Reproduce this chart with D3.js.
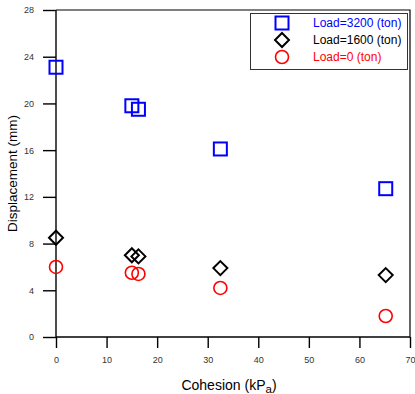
<!DOCTYPE html>
<html>
<head>
<meta charset="utf-8">
<script src="https://cdn.jsdelivr.net/npm/d3@7"></script>
<style>
  body { margin: 0; background: #fff; }
  svg { display: block; font-family: "Liberation Sans", Arial, sans-serif; }
</style>
</head>
<body>
<div id="chart"></div>
<script>
// Data
const cohesion = [0, 15, 16.3, 32.5, 65.2];
const load3200 = [23.1, 19.8, 19.5, 16.1, 12.7];
const load1600 = [8.5, 7.0, 6.9, 5.9, 5.3];
const load0 = [6.0, 5.5, 5.4, 4.2, 1.8];
const seriesNames = ["Load=3200 (ton)", "Load=1600 (ton)", "Load=0 (ton)"];
const xMajorTicks = [0, 10, 20, 30, 40, 50, 60, 70];
const yMajorTicks = [0, 4, 8, 12, 16, 20, 24, 28];

const width = 415, height = 394;
const margin = {top: 10, right: 5, bottom: 57, left: 56};

const x = d3.scaleLinear().domain([0, 70]).range([margin.left, width - margin.right]);
const y = d3.scaleLinear().domain([0, 28]).range([height - margin.bottom, margin.top]);

const svg = d3.select("#chart").append("svg")
  .attr("width", width)
  .attr("height", height);

// Frame on top and right
svg.append("path")
  .attr("d", `M${x(0)},${y(28)}H${x(70)}V${y(0)}`)
  .attr("fill", "none")
  .attr("stroke", "#000")
  .attr("stroke-width", 1.2);

// Axes: major ticks with labels, minor ticks without
const xAxis = g => g
  .attr("transform", `translate(0,${y(0)})`)
  .call(d3.axisBottom(x).tickValues(d3.range(5, 70, 10)).tickSize(6).tickFormat(""))
  .call(d3.axisBottom(x).tickValues(xMajorTicks).tickSize(11).tickPadding(9))
  .call(g => g.selectAll(".domain").remove());

const yAxis = g => g
  .attr("transform", `translate(${x(0)},0)`)
  .call(d3.axisLeft(y).tickValues(d3.range(2, 28, 4)).tickSize(6).tickFormat(""))
  .call(d3.axisLeft(y).tickValues(yMajorTicks).tickSize(13).tickPadding(9))
  .call(g => g.selectAll(".domain").remove());

svg.append("g").call(xAxis);
svg.append("g").call(yAxis);

svg.selectAll(".tick line").attr("stroke", "#000").attr("stroke-width", 1.4);
svg.selectAll(".tick text")
  .attr("font-size", 9)
  .attr("fill", "#333");

// Axis lines
svg.append("line")
  .attr("x1", x(0)).attr("x2", x(70))
  .attr("y1", y(0)).attr("y2", y(0))
  .attr("stroke", "#000").attr("stroke-width", 1.4);
svg.append("line")
  .attr("x1", x(0)).attr("x2", x(0))
  .attr("y1", y(0)).attr("y2", y(28))
  .attr("stroke", "#000").attr("stroke-width", 1.4);

// Axis titles
svg.append("text")
  .attr("transform", `translate(17,${(y(0) + y(28)) / 2}) rotate(-90)`)
  .attr("text-anchor", "middle")
  .attr("font-size", 13.5)
  .text("Displacement (mm)");

const xTitle = svg.append("text")
  .attr("x", 229)
  .attr("y", 390)
  .attr("text-anchor", "middle")
  .attr("font-size", 14);
xTitle.append("tspan").text("Cohesion (kP");
xTitle.append("tspan").attr("font-size", 11.5).attr("dy", 3).text("a");
xTitle.append("tspan").attr("dy", -3).text(")");

// Markers
const squares = cohesion.map((c, i) => ({c, v: load3200[i]}));
const diamonds = cohesion.map((c, i) => ({c, v: load1600[i]}));
const circles = cohesion.map((c, i) => ({c, v: load0[i]}));

const sq = 13;
svg.append("g")
  .selectAll("rect")
  .data(squares)
  .join("rect")
  .attr("x", d => x(d.c) - sq / 2)
  .attr("y", d => y(d.v) - sq / 2)
  .attr("width", sq)
  .attr("height", sq)
  .attr("fill", "none")
  .attr("stroke", "#0000ff")
  .attr("stroke-width", 2);

const diamond = r => `M0,${-r}L${r},0L0,${r}L${-r},0Z`;
svg.append("g")
  .selectAll("path")
  .data(diamonds)
  .join("path")
  .attr("transform", d => `translate(${x(d.c)},${y(d.v)})`)
  .attr("d", diamond(7))
  .attr("fill", "none")
  .attr("stroke", "#000")
  .attr("stroke-width", 2);

svg.append("g")
  .selectAll("circle")
  .data(circles)
  .join("circle")
  .attr("cx", d => x(d.c))
  .attr("cy", d => y(d.v))
  .attr("r", 6.5)
  .attr("fill", "none")
  .attr("stroke", "#ff0000")
  .attr("stroke-width", 1.6);

// Legend
const legend = svg.append("g");
legend.append("rect")
  .attr("x", 250.5).attr("y", 13.5)
  .attr("width", 157).attr("height", 56)
  .attr("fill", "#fff")
  .attr("stroke", "#333")
  .attr("stroke-width", 1);

const legendColors = ["#0000ff", "#000", "#ff0000"];
const rowY = [23, 40, 57];
const lx = 282;

legend.append("rect")
  .attr("x", lx - sq / 2).attr("y", rowY[0] - sq / 2)
  .attr("width", sq).attr("height", sq)
  .attr("fill", "none").attr("stroke", legendColors[0]).attr("stroke-width", 2);
legend.append("path")
  .attr("transform", `translate(${lx},${rowY[1]})`)
  .attr("d", diamond(7))
  .attr("fill", "none").attr("stroke", legendColors[1]).attr("stroke-width", 2);
legend.append("circle")
  .attr("cx", lx).attr("cy", rowY[2]).attr("r", 6.5)
  .attr("fill", "none").attr("stroke", legendColors[2]).attr("stroke-width", 1.6);

legend.selectAll("text")
  .data(seriesNames)
  .join("text")
  .attr("x", 313)
  .attr("y", (d, i) => rowY[i] + 4)
  .attr("font-size", 12)
  .attr("fill", (d, i) => legendColors[i])
  .text(d => d);
</script>
</body>
</html>
